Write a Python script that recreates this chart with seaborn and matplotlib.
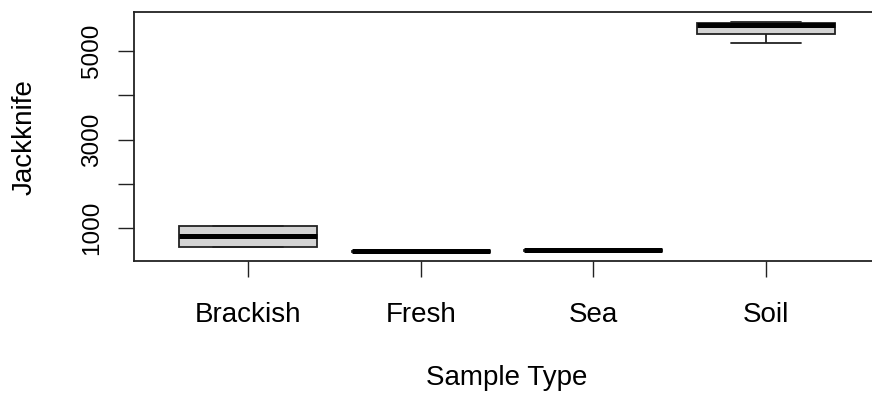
import matplotlib
matplotlib.use("Agg")
import matplotlib.pyplot as plt
import seaborn as sns
import pandas as pd

# ---- data ----
categories = ["Brackish", "Fresh", "Sea", "Soil"]
brackish = [571, 571, 833, 1052, 1052]
fresh = [474, 476, 477, 478, 480]
sea = [496, 498, 499, 500, 502]
soil = [5180, 5383, 5580, 5624, 5657]
ytick_values = [1000, 2000, 3000, 4000, 5000]
ytick_labels = ["1000", "", "3000", "", "5000"]

series = [brackish, fresh, sea, soil]
df = pd.DataFrame({
    "Sample Type": [c for c, vals in zip(categories, series) for _ in vals],
    "Jackknife": [v for vals in series for v in vals],
})

sns.set_theme(style="white")
plt.rcParams["font.family"] = ["Liberation Sans", "DejaVu Sans"]

W, H = 872, 395
fig = plt.figure(figsize=(W / 100, H / 100), dpi=100)
left, right, top, bottom = 134, 880, 12.3, 261
ax = fig.add_axes([left / W, 1 - bottom / H, (right - left) / W, (bottom - top) / H])

sns.boxplot(
    data=df, x="Sample Type", y="Jackknife", order=categories,
    color="#d3d3d3", saturation=1, width=0.8, linecolor="black",
    linewidth=1.3, whis=1.5, ax=ax,
    medianprops=dict(linewidth=3.6, color="black"),
    whiskerprops=dict(linewidth=1.3, color="#222222"),
    capprops=dict(linewidth=1.3, color="#222222"),
    boxprops=dict(edgecolor="#222222"),
)

ax.set_xlim(-0.66, 3.66)
ax.set_ylim(262, 5873)
ax.set_yticks(ytick_values)
ax.set_yticklabels(ytick_labels, rotation=90, va="center")

for name, s in ax.spines.items():
    s.set_color("#222222")
    s.set_linewidth(1.3)
    s.set_visible(name != "right")

ax.tick_params(axis="both", which="both", direction="out", length=11.5,
               width=1.0, color="#222222", left=True, bottom=True)
ax.tick_params(axis="x", labelsize=20, pad=18)
ax.tick_params(axis="y", labelsize=17.5, pad=11)

ax.set_xlabel("Sample Type", fontsize=20, labelpad=27, color="black")
ax.set_ylabel("Jackknife", fontsize=20, labelpad=31, color="black")
for lab in ax.get_xticklabels() + ax.get_yticklabels():
    lab.set_color("black")

fig.savefig("out.png", dpi=100)
